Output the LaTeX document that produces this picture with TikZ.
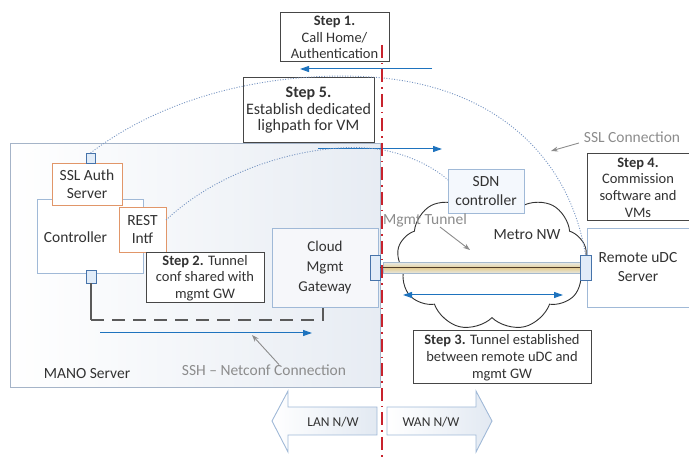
\documentclass[tikz,border=0pt]{standalone}
\usepackage{fontspec}
\setmainfont{Carlito}
\usetikzlibrary{arrows.meta,shapes.symbols}
\definecolor{txt}{RGB}{50,50,50}
\definecolor{stepb}{RGB}{70,70,70}
\definecolor{lbb}{RGB}{160,185,215}
\definecolor{orb}{RGB}{225,150,105}
\definecolor{portb}{RGB}{70,115,170}
\definecolor{portf}{RGB}{225,236,248}
\definecolor{arrb}{RGB}{30,115,190}
\definecolor{dotb}{RGB}{120,150,195}
\definecolor{glab}{RGB}{140,140,140}
\definecolor{redl}{RGB}{200,35,45}
\definecolor{manob}{RGB}{165,180,200}
\definecolor{manof}{RGB}{231,236,243}
\definecolor{cloudb}{RGB}{50,50,50}
\definecolor{gwf}{RGB}{246,247,250}
\definecolor{sdnf}{RGB}{244,248,253}
\definecolor{tunb}{RGB}{165,185,205}
\definecolor{tuna}{RGB}{232,234,228}
\definecolor{tunm}{RGB}{228,205,150}
\definecolor{tunl}{RGB}{80,60,40}
\definecolor{dashg}{RGB}{90,90,90}
\definecolor{netf}{RGB}{226,233,242}
\begin{document}
\begin{tikzpicture}[x=1pt,y=-1pt,
  every node/.style={text=txt, inner sep=0pt, outer sep=0pt},
  stepbox/.style={draw=stepb, fill=white, line width=1pt, align=center, font=\fontsize{14.5}{16.7}\selectfont},
  lbox/.style={draw=lbb, fill=white, line width=0.9pt, align=center, font=\fontsize{15.5}{18.5}\selectfont},
  obox/.style={draw=orb, fill=white, line width=0.9pt, align=center, font=\fontsize{15.5}{18.5}\selectfont},
  port/.style={draw=portb, fill=portf, line width=0.9pt},
  bluearr/.style={draw=arrb, line width=1pt, -{Triangle[length=9pt,width=6pt]}},
  bluedbl/.style={draw=arrb, line width=1pt, {Triangle[length=9pt,width=6pt]}-{Triangle[length=9pt,width=6pt]}},
  dotc/.style={draw=dotb, line width=0.9pt, dash pattern=on 1pt off 1.6pt},
  glabel/.style={text=glab, font=\fontsize{15.5}{18}\selectfont},
  plabel/.style={font=\fontsize{15.5}{18}\selectfont},
  garr/.style={draw=glab, line width=0.9pt, -{Stealth[length=7pt,width=5pt]}},
  netarr/.style={draw=lbb, line width=0.9pt, left color=white, right color=netf},
  redline/.style={draw=redl, line width=2pt, dash pattern=on 13pt off 5pt on 1.5pt off 5pt}
]
\useasboundingbox (0,0) rectangle (689,457);

% MANO server
\node[draw=manob, line width=1pt, left color=white, right color=manof, minimum width=370pt, minimum height=244pt] (mano) at (195,266) {};
\node[plabel] (manol) at (87,374) {MANO Server};

\node[lbox, minimum width=106pt, minimum height=74pt] (ctrl) at (90,236) {};
\node[plabel] (ctrltxt) at (75.5,237) {Controller};
\node[obox, minimum width=70pt, minimum height=42pt] (ssl) at (87,184) {SSL Auth\\Server};
\node[port, minimum width=9pt, minimum height=10pt] (sslport) at (90.5,158) {};
\node[obox, minimum width=47pt, minimum height=45pt] (rest) at (142.5,229.5) {REST\\Intf};
\node[stepbox, minimum width=118pt, minimum height=50pt] (s2) at (205,278) {\textbf{Step 2.} Tunnel\\conf shared with\\mgmt GW};
\node[port, minimum width=10pt, minimum height=13pt] (ctrlport) at (91,276.5) {};
\node[lbox, fill=gwf, minimum width=106pt, minimum height=79pt, font=\fontsize{15}{20}\selectfont] (gw) at (325,267.5) {Cloud\\Mgmt\\Gateway};
\node[port, minimum width=10pt, minimum height=25pt] (gwport) at (375,267.5) {};

% dashed tunnel conf path
\coordinate (d1) at (91,320);
\coordinate (d2) at (323,320);
\draw[dashg, line width=1.5pt] (ctrlport.south) -- (d1);
\draw[dashg, line width=1.5pt, dash pattern=on 13pt off 8pt] (d1) -- (d2) -- (d2 |- gw.south);

% SSH arrow
\coordinate (b2a) at (100,333);
\coordinate (b2b) at (312,333);
\draw[bluearr] (b2a) -- (b2b);
\node[glabel] (sshl) at (264,370) {SSH -- Netconf Connection};
\coordinate (ssha) at (252,335);
\draw[garr] ([xshift=15pt]sshl.north) -- (ssha);

% Step 1 and Step 5
\node[stepbox, minimum width=109pt, minimum height=49pt, font=\fontsize{14.5}{16.5}\selectfont] (s1) at (334.5,37.5) {\textbf{Step 1.}\\Call Home/\\Authentication};
\coordinate (b1a) at (432,69);
\coordinate (b1b) at (300,69);
\draw[bluearr] (b1a) -- (b1b);
\node[stepbox, minimum width=131pt, minimum height=65pt, font=\fontsize{16}{16.5}\selectfont] (s5) at (308.5,110.5) {\textbf{Step 5.}\\Establish dedicated\\lighpath for VM};
\coordinate (b5a) at (318,149);
\coordinate (b5b) at (442,149);
\draw[bluearr] (b5a) -- (b5b);

% Right side
\node[stepbox, minimum width=102pt, minimum height=67pt] (s4) at (638,187.5) {\textbf{Step 4.}\\Commission\\software and\\VMs};
\node[glabel] (ssll) at (632,137) {SSL Connection};
\coordinate (sslh) at (551,151);
\draw[garr] ([xshift=-5pt,yshift=-6pt]ssll.west) -- (sslh);

\node[cloud, cloud puffs=9, cloud puff arc=115, cloud ignores aspect, minimum width=190pt, minimum height=142pt, draw=cloudb, fill=white, line width=0.9pt] (metro) at (492,260) {};
\node[plabel] (metrol) at (527,235) {Metro NW};
\node[lbox, fill=sdnf, minimum width=76pt, minimum height=44pt] (sdn) at (486,191) {SDN\\controller};

\node[lbox, minimum width=102pt, minimum height=79pt, font=\fontsize{15.5}{19}\selectfont] (udc) at (638,267.5) {Remote uDC\\Server};

% tunnel
\node[draw=tunb, line width=0.8pt, top color=tuna, bottom color=tuna, middle color=tunm, minimum width=198pt, minimum height=11pt] (tunnel) at (482,268) {};
\node[port, minimum width=11pt, minimum height=25pt] (udcport) at (585.5,267.5) {};
\draw[tunl, line width=0.9pt] (gwport.east) -- (udcport.west);

\node[glabel] (mtl) at (425,220) {Mgmt Tunnel};
\coordinate (mth) at (470,250);
\draw[garr] ([xshift=15pt,yshift=-7pt]mtl.center) -- (mth);

\coordinate (m1) at (403,295);
\coordinate (m2) at (563,295);
\draw[bluedbl] (m1) -- (m2);

\node[stepbox, minimum width=178pt, minimum height=53pt, font=\fontsize{14.5}{17}\selectfont] (s3) at (502,357.5) {\textbf{Step 3.} Tunnel established\\between remote uDC and\\mgmt GW};

% dotted connections
\draw[dotc] (sslport.north) .. controls (180,85) and (300,70) .. (383,78) .. controls (500,90) and (570,160) .. (udcport.north);
\draw[dotc] ([yshift=9.5pt]rest.east) .. controls (230,160) and (330,140) .. (383,150) .. controls (410,155) and (435,168) .. ([yshift=11pt]sdn.west);

% LAN / WAN arrows
\draw[netarr] (377,407) -- (288,407) -- (288,391) -- (272,421) -- (288,452) -- (288,435) -- (377,435) -- cycle;
\node[font=\fontsize{13.5}{16}\selectfont] (lanl) at (333,422) {LAN N/W};
\draw[netarr] (387,407) -- (476,407) -- (476,391) -- (492,421) -- (476,452) -- (476,435) -- (387,435) -- cycle;
\node[font=\fontsize{13.5}{16}\selectfont] (wanl) at (431,422) {WAN N/W};

% LAN/WAN boundary
\coordinate (r1) at (382,45);
\coordinate (r2) at (382,457);
\draw[redline] (r1) -- (r2);
\end{tikzpicture}
\end{document}
